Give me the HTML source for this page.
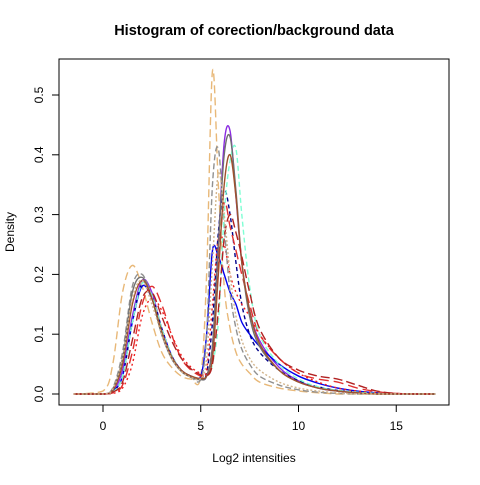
<!DOCTYPE html>
<html><head><meta charset="utf-8"><style>
body{margin:0;background:#fff}
svg text{font-family:"Liberation Sans",Arial,sans-serif;fill:#000}
</style></head><body>
<svg id="chart" width="480" height="480" viewBox="0 0 480 480" xmlns="http://www.w3.org/2000/svg">
<text x="254" y="35" text-anchor="middle" font-size="14.5" font-weight="bold">Histogram of corection/background data</text>
<rect x="59" y="59" width="390" height="346" fill="none" stroke="#000" stroke-width="1"/>
<g id="xaxis"></g>
<g id="yaxis"></g>
<g id="series"></g>
<text x="254" y="462" text-anchor="middle" font-size="12">Log2 intensities</text>
<text transform="translate(14,232) rotate(-90)" text-anchor="middle" font-size="12">Density</text>
</svg>
<script>
const xGrid=[-1.5,0,0.5,1,1.5,2,2.5,3,3.5,4,4.5,5,5.3,5.6,5.9,6.2,6.5,6.8,7.1,7.5,8,9,10,11,12,13,14,15,16,17];
const xTicks=[0,5,10,15];
const yTicks=[0,0.1,0.2,0.3,0.4,0.5];
const yTickLabels=["0.0","0.1","0.2","0.3","0.4","0.5"];
const seriesNames=["purple","burlywood","blue","darkblue","red-dash","red-dot","gray-dash","aquamarine","darkgray","brown","firebrick","tan-dot"];
const seriesColors=["#8a2be2","#e8b878","#0000ee","#00008b","#e03030","#ee2020","#909090","#7fffd4","#707070","#a0522d","#b22222","#d2b48c"];
const seriesDash=["","8,4","","4,3","10,5","2,3","6,3","5,3","","","9,4","2,2"];
const sA=[0,0,.005,.04,.13,.19,.17,.11,.065,.04,.03,.025,.03,.08,.25,.42,.44,.33,.22,.14,.09,.045,.022,.01,.005,.002,.001,0,0,0];
const sB=[0,.005,.05,.17,.215,.18,.12,.07,.045,.03,.025,.03,.2,.54,.35,.18,.11,.07,.05,.035,.02,.01,.005,.002,0,0,0,0,0,0];
const sC=[0,0,.005,.03,.12,.18,.16,.11,.065,.04,.03,.03,.1,.24,.23,.2,.17,.15,.12,.1,.08,.05,.03,.018,.01,.005,.002,0,0,0];
const sD=[0,0,.004,.03,.12,.185,.165,.11,.065,.04,.03,.026,.035,.12,.27,.34,.3,.22,.15,.1,.07,.04,.022,.012,.006,.003,.001,0,0,0];
const sE=[0,0,.002,.015,.07,.15,.18,.15,.1,.06,.04,.03,.03,.08,.22,.32,.28,.24,.2,.15,.1,.06,.035,.025,.02,.01,.004,.001,0,0];
const sF=[0,0,.001,.01,.05,.13,.16,.14,.1,.065,.045,.035,.04,.15,.26,.25,.2,.17,.15,.13,.1,.06,.035,.02,.01,.005,.002,0,0,0];
const sG=[0,0,.01,.07,.18,.2,.16,.1,.06,.038,.028,.025,.1,.35,.41,.28,.17,.11,.075,.05,.03,.015,.007,.003,.001,0,0,0,0,0];
const sH=[0,0,.003,.03,.12,.185,.165,.11,.065,.04,.03,.026,.03,.05,.12,.3,.39,.41,.3,.18,.1,.05,.025,.012,.006,.003,.001,0,0,0];
const sI=[0,0,.008,.06,.17,.195,.16,.1,.06,.038,.028,.024,.03,.08,.25,.4,.43,.34,.22,.13,.08,.04,.02,.01,.005,.002,0,0,0,0];
const sJ=[0,0,.006,.05,.15,.19,.16,.105,.063,.04,.03,.026,.03,.06,.2,.35,.4,.33,.22,.14,.085,.04,.02,.01,.005,.002,0,0,0,0];
const sK=[0,0,.003,.02,.09,.16,.17,.13,.09,.06,.042,.032,.03,.05,.14,.26,.3,.27,.23,.17,.11,.06,.04,.03,.025,.015,.005,.001,0,0];
const sL=[0,0,.008,.06,.16,.19,.15,.1,.06,.038,.028,.026,.06,.22,.37,.3,.2,.13,.09,.06,.04,.02,.01,.005,.002,0,0,0,0,0];
const seriesValues=[sA,sB,sC,sD,sE,sF,sG,sH,sI,sJ,sK,sL];

const NS="http://www.w3.org/2000/svg";
const sx=v=>103+v*19.55;
const sy=v=>394-v*598;
function mk(tag,attrs,parent){const e=document.createElementNS(NS,tag);for(const k in attrs)e.setAttribute(k,attrs[k]);parent.appendChild(e);return e;}
const xa=document.getElementById('xaxis'),ya=document.getElementById('yaxis'),sg=document.getElementById('series');
const xl=mk('line',{x1:sx(xTicks[0]),x2:sx(xTicks[xTicks.length-1]),y1:405,y2:405,stroke:'#000'},xa);


xTicks.forEach(t=>{
  const l=mk('line',{x1:sx(t),x2:sx(t),y1:405,y2:412,stroke:'#000'},xa);
  
  
  const tx=mk('text',{x:sx(t),y:430,'text-anchor':'middle','font-size':'12'},xa);
  tx.textContent=t;
  
  
});
const yl=mk('line',{x1:59,x2:59,y1:sy(yTicks[0]),y2:sy(yTicks[yTicks.length-1]),stroke:'#000'},ya);


yTicks.forEach((t,i)=>{
  const l=mk('line',{x1:52,x2:59,y1:sy(t),y2:sy(t),stroke:'#000'},ya);
  
  
  const tx=mk('text',{transform:`translate(43,${sy(t)}) rotate(-90)`,'text-anchor':'middle','font-size':'12'},ya);
  tx.textContent=yTickLabels[i];
  
  
});
function pathFor(vals){
  const p=xGrid.map((x,i)=>[sx(x),sy(vals[i])]);
  let d=`M${p[0][0]},${p[0][1]}`;
  for(let i=0;i<p.length-1;i++){
    const p0=p[i-1]||p[i],p1=p[i],p2=p[i+1],p3=p[i+2]||p2;
    let c1y=p1[1]+(p2[1]-p0[1])/6,c2y=p2[1]-(p3[1]-p1[1])/6;
    c1y=Math.min(c1y,394);c2y=Math.min(c2y,394);
    d+=` C${p1[0]+(p2[0]-p0[0])/6},${c1y} ${p2[0]-(p3[0]-p1[0])/6},${c2y} ${p2[0]},${p2[1]}`;
  }
  return d;
}
seriesValues.forEach((vals,i)=>{
  const path=mk('path',{d:pathFor(vals),fill:'none',stroke:seriesColors[i],'stroke-width':'1.4','stroke-dasharray':seriesDash[i]},sg);
  
  
});
</script>
</body></html>
